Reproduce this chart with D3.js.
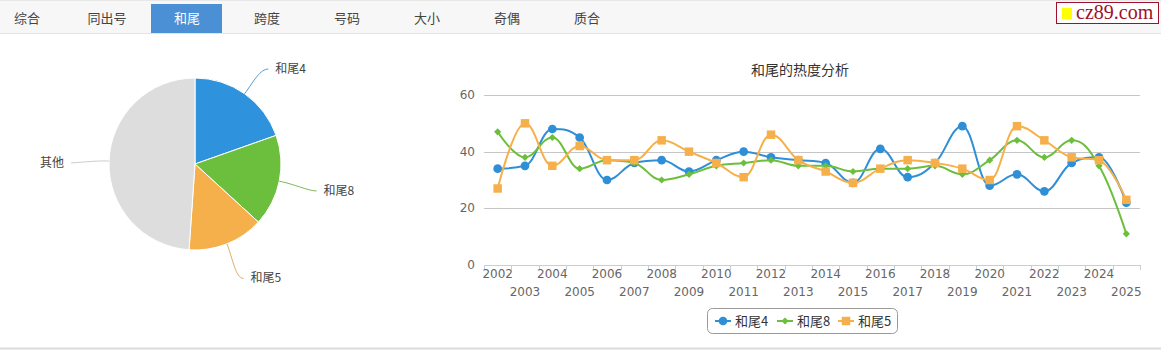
<!DOCTYPE html>
<html lang="zh">
<head>
<meta charset="utf-8">
<title>和尾</title>
<script src="https://d3js.org/d3.v7.min.js"></script>
<style>
  body { margin: 0; background: #fff; }
  svg { display: block; }
</style>
</head>
<body>
<script>
// tabs along the top
const tabs = ["综合", "同出号", "和尾", "跨度", "号码", "大小", "奇偶", "质合"];
const activeTab = "和尾";

// pie slices (share of draws, %)
const pieNames = ["和尾4", "和尾8", "和尾5", "其他"];
const pieValues = [19.6, 17.2, 14.3, 48.9];

// line chart
const years = d3.range(2002, 2026).map(String);
const seriesNames = ["和尾4", "和尾8", "和尾5"];
const tail4 = [34, 35, 48, 45, 30, 36, 37, 33, 37, 40, 38, 37, 36, 29, 41, 31, 36, 49, 28, 32, 26, 36, 38, 22];
const tail8 = [47, 38, 45, 34, 37, 36, 30, 32, 35, 36, 37, 35, 35, 33, 34, 34, 35, 32, 37, 44, 38, 44, 35, 11];
const tail5 = [27, 50, 35, 42, 37, 37, 44, 40, 36, 31, 46, 37, 33, 29, 34, 37, 36, 34, 30, 49, 44, 38, 37, 23];
const yTicks = [0, 20, 40, 60];

const W = 1161, H = 351;
const cjk = "'Noto Sans CJK SC', 'Noto Sans', sans-serif";
const axisFont = "'DejaVu Sans', Verdana, sans-serif";

const svg = d3.select("body").append("svg")
  .attr("width", W).attr("height", H);

// ---- tab bar ----
svg.append("rect").attr("x", 0).attr("y", 0).attr("width", W).attr("height", 34)
  .attr("fill", "#f7f7f7");
svg.append("line").attr("x1", 0).attr("x2", W).attr("y1", 33.5).attr("y2", 33.5)
  .attr("stroke", "#e3e3e3");
svg.append("line").attr("x1", 0).attr("x2", W).attr("y1", 0.5).attr("y2", 0.5)
  .attr("stroke", "#e8e8e8");

const tabX = d3.scalePoint().domain(tabs).range([27, 587]);
svg.append("rect")
  .attr("x", tabX(activeTab) - 36).attr("y", 4)
  .attr("width", 71).attr("height", 29)
  .attr("fill", "#4b8fd5");
svg.selectAll("text.tab").data(tabs).enter().append("text")
  .attr("class", "tab")
  .attr("x", d => tabX(d)).attr("y", 23)
  .attr("text-anchor", "middle")
  .attr("font-family", cjk).attr("font-size", 13)
  .attr("fill", d => d === activeTab ? "#fff" : "#444")
  .text(d => d);

// logo
const logo = svg.append("g").attr("transform", "translate(1056,2)");
logo.append("rect").attr("x", 0.5).attr("y", 0.5).attr("width", 102).attr("height", 21)
  .attr("fill", "#fff").attr("stroke", "#a0102a");
logo.append("rect").attr("x", 6).attr("y", 6).attr("width", 10).attr("height", 11)
  .attr("fill", "#ffff00");
logo.append("text").attr("x", 20).attr("y", 17)
  .attr("font-family", "'Liberation Serif', 'DejaVu Serif', serif")
  .attr("font-size", 20).attr("fill", "#a0102a")
  .text("cz89.com");

// bottom border
svg.append("line").attr("x1", 0).attr("x2", W).attr("y1", 348.5).attr("y2", 348.5)
  .attr("stroke", "#dcdcdc").attr("stroke-width", 2);

// ---- pie ----
const pieColors = d3.scaleOrdinal().domain(pieNames)
  .range(["#2f92dc", "#6cbf3c", "#f6b04b", "#dddddd"]);
const cx = 195, cy = 164, r = 86;
const pieG = svg.append("g").attr("transform", `translate(${cx},${cy})`);
const arcs = d3.pie().sort(null)(pieValues);
const arc = d3.arc().innerRadius(0).outerRadius(r);

pieG.selectAll("path.slice").data(arcs).enter().append("path")
  .attr("class", "slice")
  .attr("d", arc)
  .attr("fill", (d, i) => pieColors(pieNames[i]))
  .attr("stroke", "#fff").attr("stroke-width", 1);

const polar = (a, rad) => [Math.sin(a) * rad, -Math.cos(a) * rad];
arcs.forEach((d, i) => {
  const mid = (d.startAngle + d.endAngle) / 2;
  const p0 = polar(mid, r);
  const c1 = polar(mid, r + 16);
  const end = polar(mid, r + 34);
  const side = end[0] >= 0 ? 1 : -1;
  end[0] += side * 4;
  end[1] += 3;
  const c2 = [end[0] - side * 8, end[1]];
  pieG.append("path")
    .attr("d", `M${p0[0]},${p0[1]} C${c1[0]},${c1[1]} ${c2[0]},${c2[1]} ${end[0]},${end[1]}`)
    .attr("fill", "none")
    .attr("stroke", d3.color(pieColors(pieNames[i])).darker(0.4))
    .attr("stroke-width", 1).attr("opacity", 0.8);
  pieG.append("text")
    .attr("x", end[0] + side * 7).attr("y", end[1] + 4)
    .attr("text-anchor", side > 0 ? "start" : "end")
    .attr("font-family", cjk).attr("font-size", 12).attr("fill", "#444")
    .text(pieNames[i]);
});

// ---- line chart ----
const plotL = 484, plotR = 1140, plotT = 95, plotB = 265;
const x = d3.scaleBand().domain(years).range([plotL, plotR]);
const y = d3.scaleLinear().domain([0, 60]).range([plotB, plotT]);

svg.append("text")
  .attr("x", (plotL + plotR) / 2 - 12).attr("y", 75)
  .attr("text-anchor", "middle")
  .attr("font-family", cjk).attr("font-size", 14).attr("fill", "#333")
  .text("和尾的热度分析");

svg.selectAll("line.grid").data(yTicks.filter(t => t > 0)).enter().append("line")
  .attr("class", "grid")
  .attr("x1", plotL).attr("x2", plotR)
  .attr("y1", d => Math.round(y(d)) + 0.5).attr("y2", d => Math.round(y(d)) + 0.5)
  .attr("stroke", "#c6c6c6");

svg.selectAll("text.ylab").data(yTicks).enter().append("text")
  .attr("class", "ylab")
  .attr("x", 475).attr("y", d => y(d) + 4)
  .attr("text-anchor", "end")
  .attr("font-family", axisFont).attr("font-size", 12).attr("fill", "#666")
  .text(d => d);

// x axis line and ticks at category boundaries
svg.append("line").attr("x1", plotL).attr("x2", plotR)
  .attr("y1", plotB + 0.5).attr("y2", plotB + 0.5)
  .attr("stroke", "#c0d0e0");
const bounds = years.map(d => x(d)).concat([x(years[years.length - 1]) + x.bandwidth()]);
svg.selectAll("line.xtick").data(bounds).enter().append("line")
  .attr("class", "xtick")
  .attr("x1", d => Math.round(d) + 0.5).attr("x2", d => Math.round(d) + 0.5)
  .attr("y1", plotB).attr("y2", plotB + 5)
  .attr("stroke", "#c0d0e0");

svg.selectAll("text.xlab").data(years).enter().append("text")
  .attr("class", "xlab")
  .attr("x", d => x(d) + x.bandwidth() / 2)
  .attr("y", (d, i) => i % 2 === 0 ? 278 : 296)
  .attr("text-anchor", "middle")
  .attr("font-family", axisFont).attr("font-size", 12).attr("fill", "#666")
  .text(d => d);

// highcharts-like spline path
function splinePath(pts) {
  const sm = 1.5, den = sm + 1;
  let out = "";
  pts.forEach((p, i) => {
    if (i === 0) { out += `M${p[0]},${p[1]}`; return; }
    let lx = p[0], ly = p[1];
    if (i < pts.length - 1) {
      const a = pts[i - 1], b = pts[i + 1];
      lx = (sm * p[0] + a[0]) / den; ly = (sm * p[1] + a[1]) / den;
      const rx = (sm * p[0] + b[0]) / den; let ry = (sm * p[1] + b[1]) / den;
      let corr = 0;
      if (rx !== lx) corr = ((ry - ly) * (rx - p[0])) / (rx - lx) + p[1] - ry;
      ly += corr; ry += corr;
      if (ly > a[1] && ly > p[1]) { ly = Math.max(a[1], p[1]); ry = 2 * p[1] - ly; }
      else if (ly < a[1] && ly < p[1]) { ly = Math.min(a[1], p[1]); ry = 2 * p[1] - ly; }
      if (ry > b[1] && ry > p[1]) { ry = Math.max(b[1], p[1]); ly = 2 * p[1] - ry; }
      else if (ry < b[1] && ry < p[1]) { ry = Math.min(b[1], p[1]); ly = 2 * p[1] - ry; }
      p.rc = [rx, ry];
    }
    const prev = pts[i - 1];
    const rc = prev.rc || prev;
    out += `C${rc[0]},${rc[1]} ${lx},${ly} ${p[0]},${p[1]}`;
  });
  return out;
}

const lineColors = ["#2f8fd6", "#6cbf3c", "#f6b04b"];
const symbols = [d3.symbolCircle, d3.symbolSquare, d3.symbolSquare];
const symSizes = [60, 26, 72];
const symRotate = [0, 45, 0];
const allSeries = [tail4, tail8, tail5];

allSeries.forEach((vals, s) => {
  const pts = vals.map((v, i) => [x(years[i]) + x.bandwidth() / 2, y(v)]);
  svg.append("path")
    .attr("d", splinePath(pts))
    .attr("fill", "none").attr("stroke", lineColors[s]).attr("stroke-width", 2);
  svg.selectAll(null).data(vals).enter().append("path")
    .attr("transform", (v, i) => `translate(${x(years[i]) + x.bandwidth() / 2},${y(v)}) rotate(${symRotate[s]})`)
    .attr("d", d3.symbol().type(symbols[s]).size(symSizes[s]))
    .attr("fill", lineColors[s]);
});

// legend
const lg = svg.append("g").attr("transform", "translate(707,308)");
lg.append("rect").attr("x", 0.5).attr("y", 0.5).attr("width", 190).attr("height", 25)
  .attr("rx", 5).attr("fill", "#fff").attr("stroke", "#9a9a9a");
const lgX = [8, 70, 131];
seriesNames.forEach((n, s) => {
  const g = lg.append("g").attr("transform", `translate(${lgX[s]},13)`);
  g.append("line").attr("x1", 0).attr("x2", 16).attr("y1", 0).attr("y2", 0)
    .attr("stroke", lineColors[s]).attr("stroke-width", 2);
  g.append("path").attr("transform", `translate(8,0) rotate(${symRotate[s]})`)
    .attr("d", d3.symbol().type(symbols[s]).size(symSizes[s]))
    .attr("fill", lineColors[s]);
  g.append("text").attr("x", 20).attr("y", 5)
    .attr("font-family", cjk).attr("font-size", 13).attr("fill", "#333")
    .text(n);
});
</script>
</body>
</html>
